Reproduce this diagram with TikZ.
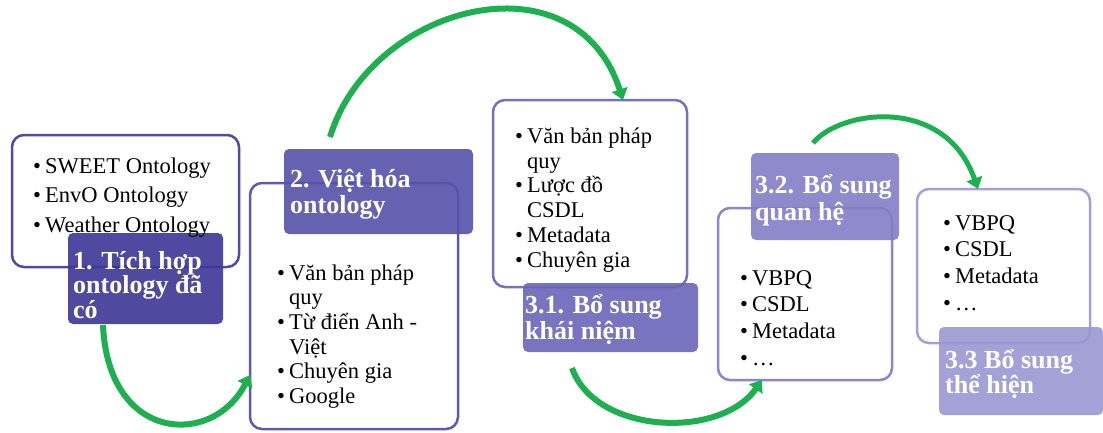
\documentclass[tikz,border=0pt]{standalone}
\usepackage{fontspec}
\setmainfont{Liberation Serif}
\usetikzlibrary{arrows.meta,calc}
\definecolor{lc1}{RGB}{60,55,150}
\definecolor{bc1}{RGB}{80,74,165}
\definecolor{lc2}{RGB}{86,81,170}
\definecolor{bc2}{RGB}{95,89,176}
\definecolor{lc3}{RGB}{106,101,185}
\definecolor{bc3}{RGB}{118,112,192}
\definecolor{lc4}{RGB}{131,126,198}
\definecolor{bc4}{RGB}{140,135,203}
\definecolor{lc5}{RGB}{155,151,210}
\definecolor{bc5}{RGB}{165,160,215}
\definecolor{flowgreen}{RGB}{30,176,80}
\newcommand{\bu}{\makebox[12pt][l]{\textbullet}}
\newcommand{\ind}{\hspace*{12pt}}
\newcommand{\fr}{\rule{0pt}{28pt}}
\tikzset{
  whitebox/.style={draw, line width=2.5pt, rounded corners=12pt, fill=white, anchor=north west, inner sep=0pt, outer sep=0pt},
  labbox/.style={rounded corners=5pt, fill opacity=0.9, anchor=north west, inner sep=0pt, outer sep=0pt},
  btxt/.style={anchor=north west, inner sep=0pt, align=left, font=\fontsize{22.5}{#1}\selectfont},
  ltxt/.style={anchor=north west, inner sep=0pt, align=left, text=white, font=\bfseries\fontsize{26}{#1}\selectfont},
  flow/.style={draw=flowgreen, line width=6pt, -{Triangle[length=11pt,width=16pt]}},
}
\begin{document}
\begin{tikzpicture}[x=1pt,y=-1pt]
\useasboundingbox (0,0) rectangle (1103,432);
\fill[white] (0,0) rectangle (1103,432);
% white boxes
\node[whitebox, draw=bc1, minimum width=227pt, minimum height=132pt] (b1) at (12,135) {};
\node[whitebox, draw=bc2, minimum width=208pt, minimum height=246pt] (b2) at (250,183) {};
\node[whitebox, draw=bc3, minimum width=194pt, minimum height=187pt] (b3) at (493,100) {};
\node[whitebox, draw=bc4, minimum width=174pt, minimum height=172pt] (b4) at (718,208) {};
\node[whitebox, draw=bc5, minimum width=173pt, minimum height=154pt] (b5) at (917,189) {};
% labels
\node[labbox, fill=lc1, minimum width=155pt, minimum height=91pt] (l1) at (68,233) {};
\node[labbox, fill=lc2, minimum width=189pt, minimum height=85pt] (l2) at (284,149) {};
\node[labbox, fill=lc3, minimum width=175pt, minimum height=69pt] (l3) at (523,283) {};
\node[labbox, fill=lc4, minimum width=148pt, minimum height=87pt] (l4) at (751,153) {};
\node[labbox, fill=lc5, minimum width=164pt, minimum height=88pt] (l5) at (939,327) {};
% bullet texts
\node[btxt=29.5] (t1) at (33,145) {\fr\bu SWEET Ontology\\\bu EnvO Ontology\\\bu Weather Ontology};
\node[btxt=24.6] (t2) at (277,252) {\fr\bu Văn bản pháp\\\ind quy\\\bu Từ điển Anh -\\\ind Việt\\\bu Chuyên gia\\\bu Google};
\node[btxt=24.8] (t3) at (515,115) {\fr\bu Văn bản pháp\\\ind quy\\\bu Lược đồ\\\ind CSDL\\\bu Metadata\\\bu Chuyên gia};
\node[btxt=26.7] (t4) at (740,257) {\fr\bu VBPQ\\\bu CSDL\\\bu Metadata\\\bu …};
\node[btxt=26.7] (t5) at (943,202) {\fr\bu VBPQ\\\bu CSDL\\\bu Metadata\\\bu …};
% label texts
\node[ltxt=24.5] (u1) at (73,241) {\fr 1. Tích hợp\\ontology đã\\có};
\node[ltxt=26] (u2) at (290,159) {\fr 2. Việt hóa\\ontology};
\node[ltxt=26] (u3) at (525,285) {\fr 3.1. Bổ sung\\khái niệm};
\node[ltxt=27] (u4) at (755,165) {\fr 3.2. Bổ sung\\quan hệ};
\node[ltxt=24] (u5) at (945,340) {\fr 3.3 Bổ sung\\thể hiện};
% flow arrows
\draw[flow] ($(l1.south west)+(35,1)$) .. controls (108,442) and (212,448) .. ($(b2.north west)+(0,192)$);
\draw[flow] ($(l2.north west)+(46,-12)$) .. controls (370,5) and (575,-49) .. ($(b3.north west)+(130,0)$);
\draw[flow] ($(l3.south west)+(49,16)$) .. controls (595,434) and (720,440) .. ($(b4.south west)+(44,0)$);
\draw[flow, line width=5pt] ($(l4.north west)+(62,-10)$) .. controls (840,110) and (945,95) .. ($(b5.north west)+(61,0)$);
\end{tikzpicture}
\end{document}
